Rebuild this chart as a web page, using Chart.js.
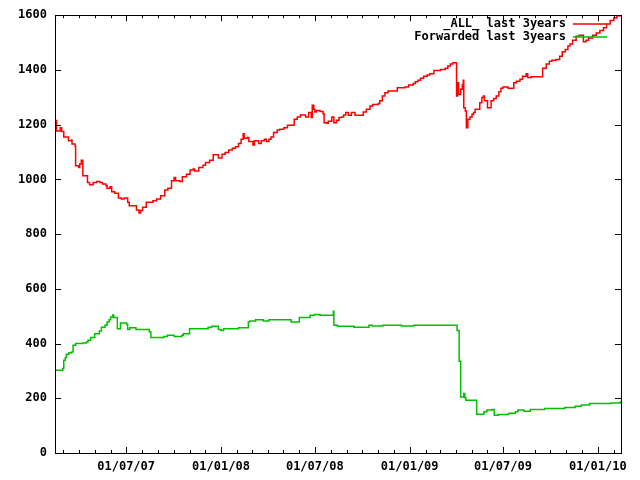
<!DOCTYPE html>
<html>
<head>
<meta charset="utf-8">
<script src="https://cdn.jsdelivr.net/npm/chart.js@4.4.1/dist/chart.umd.min.js"></script>
<style>
  body { margin: 0; background: #fff; }
  canvas { display: block; }
</style>
</head>
<body>
<canvas id="chart" width="640" height="480"></canvas>
<script>
// x range of the plot (last 3 years)
const rangeStart = '2007-02-13';
const rangeEnd = '2010-02-15';

const allDates = [
  '2007-02-13','2007-02-16','2007-02-23','2007-02-26','2007-03-02','2007-03-11','2007-03-17','2007-03-18',
  '2007-03-24','2007-03-25','2007-03-31','2007-04-02','2007-04-05','2007-04-08','2007-04-17','2007-04-21',
  '2007-04-28','2007-05-05','2007-05-11','2007-05-16','2007-05-23','2007-05-25','2007-05-31','2007-06-03',
  '2007-06-09','2007-06-16','2007-06-22','2007-06-27','2007-07-04','2007-07-07','2007-07-21','2007-07-26',
  '2007-07-29','2007-08-02','2007-08-09','2007-08-22','2007-08-29','2007-09-06','2007-09-14','2007-09-20',
  '2007-09-27','2007-10-02','2007-10-05','2007-10-13','2007-10-18','2007-10-26','2007-11-02','2007-11-08',
  '2007-11-11','2007-11-19','2007-11-27','2007-12-02','2007-12-10','2007-12-17','2007-12-27','2008-01-03',
  '2008-01-09','2008-01-16','2008-01-23','2008-01-29','2008-02-04','2008-02-09','2008-02-13','2008-02-15',
  '2008-02-21','2008-02-24','2008-03-03','2008-03-06','2008-03-14','2008-03-19','2008-03-25','2008-03-29',
  '2008-04-03','2008-04-07','2008-04-12','2008-04-19','2008-04-24','2008-05-02','2008-05-09','2008-05-22',
  '2008-05-28','2008-06-03','2008-06-13','2008-06-19','2008-06-24','2008-06-26','2008-06-29','2008-07-01',
  '2008-07-04','2008-07-11','2008-07-17','2008-07-19','2008-07-24','2008-07-27','2008-08-03','2008-08-07',
  '2008-08-12','2008-08-17','2008-08-22','2008-08-26','2008-08-30','2008-09-04','2008-09-10','2008-09-17',
  '2008-10-03','2008-10-09','2008-10-16','2008-10-21','2008-11-01','2008-11-04','2008-11-09','2008-11-14',
  '2008-11-20','2008-12-08','2008-12-23','2008-12-30','2009-01-08','2009-01-12','2009-01-17','2009-01-22',
  '2009-01-28','2009-02-04','2009-02-09','2009-02-17','2009-03-02','2009-03-11','2009-03-16','2009-03-21',
  '2009-03-26','2009-04-02','2009-04-04','2009-04-06','2009-04-10','2009-04-13','2009-04-15','2009-04-16',
  '2009-04-19','2009-04-21','2009-04-24','2009-04-28','2009-05-02','2009-05-05','2009-05-08','2009-05-17',
  '2009-05-21','2009-05-24','2009-05-26','2009-06-01','2009-06-08','2009-06-13','2009-06-18','2009-06-23',
  '2009-06-27','2009-07-01','2009-07-11','2009-07-22','2009-07-27','2009-08-03','2009-08-08','2009-08-15',
  '2009-08-18','2009-08-25','2009-09-16','2009-09-23','2009-09-29','2009-10-04','2009-10-12','2009-10-19',
  '2009-10-24','2009-10-30','2009-11-04','2009-11-08','2009-11-13','2009-11-20','2009-11-26','2009-12-04',
  '2009-12-09','2009-12-14','2009-12-22','2009-12-29','2010-01-05','2010-01-12','2010-01-18','2010-01-25',
  '2010-02-01','2010-02-07','2010-02-14'
];
const allValues = [
  1215,1177,1189,1175,1155,1141,1144,1129,
  1122,1050,1043,1056,1070,1013,989,980,
  989,992,989,983,977,968,973,955,
  949,932,928,932,916,904,888,877,
  886,898,916,922,928,940,961,968,
  995,1007,995,992,1010,1019,1034,1038,
  1031,1043,1052,1062,1070,1090,1078,1092,
  1098,1107,1114,1119,1131,1147,1167,1150,
  1153,1138,1126,1141,1131,1141,1147,1138,
  1147,1155,1171,1180,1183,1189,1198,1220,
  1228,1235,1228,1244,1226,1271,1256,1246,
  1252,1248,1240,1207,1205,1212,1228,1207,
  1216,1226,1228,1235,1244,1234,1244,1234,
  1246,1256,1268,1274,1277,1287,1305,1317,
  1323,1335,1338,1345,1350,1357,1362,1370,
  1377,1381,1386,1398,1402,1406,1414,1422,
  1426,1305,1353,1310,1329,1345,1362,1262,
  1250,1189,1220,1228,1238,1244,1256,1280,
  1299,1305,1287,1262,1287,1296,1305,1320,
  1333,1338,1333,1353,1359,1366,1377,1386,
  1372,1375,1406,1422,1432,1435,1438,1450,
  1466,1475,1487,1495,1508,1523,1527,1503,
  1508,1517,1527,1535,1544,1554,1568,1581,
  1590,1598,1600
];

const fwdDates = [
  '2007-02-13','2007-02-28','2007-03-02','2007-03-05','2007-03-07','2007-03-12','2007-03-17','2007-03-20',
  '2007-03-25','2007-04-08','2007-04-15','2007-04-18','2007-04-23','2007-05-01','2007-05-10','2007-05-14',
  '2007-05-21','2007-05-25','2007-05-29','2007-06-01','2007-06-05','2007-06-07','2007-06-14','2007-06-20',
  '2007-07-02','2007-07-04','2007-07-08','2007-07-20','2007-08-15','2007-08-18','2007-09-12','2007-09-19',
  '2007-10-02','2007-10-17','2007-10-20','2007-11-01','2007-12-07','2007-12-14','2007-12-27','2008-01-01',
  '2008-01-06','2008-02-04','2008-02-23','2008-02-26','2008-03-08','2008-03-23','2008-04-03','2008-05-16',
  '2008-06-01','2008-06-22','2008-06-30','2008-07-11','2008-08-06','2008-08-07','2008-08-14','2008-09-15',
  '2008-10-14','2008-10-21','2008-11-10','2008-12-16','2009-01-09','2009-04-03','2009-04-07','2009-04-10',
  '2009-04-16','2009-04-18','2009-04-20','2009-05-11','2009-05-25','2009-05-31','2009-06-10','2009-06-14',
  '2009-06-22','2009-07-12','2009-07-25','2009-07-30','2009-08-11','2009-08-23','2009-09-20','2009-10-29',
  '2009-11-18','2009-11-30','2009-12-16','2010-01-27','2010-02-14'
];
const fwdValues = [
  302,309,339,349,361,366,369,394,
  400,402,406,412,422,436,446,460,
  467,479,487,497,504,495,454,475,
  470,451,458,451,442,422,426,430,
  426,430,436,454,460,463,451,448,
  454,458,479,482,487,482,487,479,
  495,503,506,503,518,467,463,460,
  467,464,467,464,467,448,335,205,
  217,203,193,142,151,157,159,138,
  141,145,151,157,153,159,163,166,
  171,175,181,183,190
];

const yTicks = [0, 200, 400, 600, 800, 1000, 1200, 1400, 1600];
const seriesNames = ['_ALL_ last 3years', 'Forwarded last 3years'];
const seriesColors = ['#ff0000', '#00c000'];

const DAY = 86400000;
const toDay = s => Date.parse(s) / DAY;
const pad2 = n => String(n).padStart(2, '0');

function points(dates, values) {
  return dates.map((d, i) => ({ x: toDay(d), y: values[i] }));
}

// month starts for x ticks
const monthTicks = [];
for (let y = 2007, m = 2; y < 2011; m++) {
  if (m > 11) { m = 0; y++; }
  const v = Date.UTC(y, m, 1) / DAY;
  if (v > toDay(rangeEnd)) break;
  monthTicks.push(v);
}
function isMajor(v) {
  const d = new Date(v * DAY);
  return d.getUTCMonth() === 0 || d.getUTCMonth() === 6;
}

const FONT = 'bold 12px "DejaVu Sans Mono", monospace';

const gnuFrame = {
  id: 'gnuFrame',
  afterDatasetsDraw(chart) {
    const { ctx, chartArea: a, scales } = chart;
    ctx.save();
    ctx.strokeStyle = '#000';
    ctx.lineWidth = 1;
    ctx.beginPath();
    yTicks.forEach(t => {
      const y = Math.round(scales.y.getPixelForValue(t)) + 0.5;
      ctx.moveTo(a.left, y); ctx.lineTo(a.left + 6, y);
      ctx.moveTo(a.right, y); ctx.lineTo(a.right - 6, y);
    });
    monthTicks.forEach(t => {
      const x = Math.round(scales.x.getPixelForValue(t)) + 0.5;
      const len = isMajor(t) ? 6 : 3;
      ctx.moveTo(x, a.bottom); ctx.lineTo(x, a.bottom - len);
      ctx.moveTo(x, a.top); ctx.lineTo(x, a.top + len);
    });
    ctx.stroke();
    ctx.strokeRect(Math.round(a.left) + 0.5, Math.round(a.top) + 0.5,
      Math.round(a.right - a.left), Math.round(a.bottom - a.top));

    // key, top right inside the plot
    ctx.font = FONT;
    ctx.textAlign = 'right';
    ctx.textBaseline = 'middle';
    seriesNames.forEach((name, i) => {
      const y = 24 + i * 13;
      ctx.fillStyle = '#000';
      ctx.fillText(name, 566, y);
      ctx.strokeStyle = seriesColors[i];
      ctx.lineWidth = 1.5;
      ctx.beginPath();
      ctx.moveTo(573, y); ctx.lineTo(607, y);
      ctx.stroke();
    });
    ctx.restore();
  }
};

new Chart(document.getElementById('chart'), {
  type: 'line',
  data: {
    datasets: [{
      label: seriesNames[0],
      data: points(allDates, allValues),
      borderColor: seriesColors[0],
      borderWidth: 1.5,
      pointRadius: 0,
      stepped: true
    }, {
      label: seriesNames[1],
      data: points(fwdDates, fwdValues),
      borderColor: seriesColors[1],
      borderWidth: 1.5,
      pointRadius: 0,
      stepped: true
    }]
  },
  options: {
    responsive: false,
    animation: false,
    devicePixelRatio: 1,
    layout: { padding: { top: 14, right: 19, left: 0, bottom: 0 } },
    plugins: { legend: { display: false }, tooltip: { enabled: false } },
    scales: {
      x: {
        type: 'linear',
        min: toDay(rangeStart),
        max: toDay(rangeEnd),
        grid: { display: false, drawTicks: false },
        border: { display: false },
        afterBuildTicks: s => { s.ticks = monthTicks.map(v => ({ value: v })); },
        afterFit: s => { s.height = 27; },
        ticks: {
          autoSkip: false,
          maxRotation: 0,
          padding: 7,
          color: '#000',
          font: { family: '"DejaVu Sans Mono", monospace', size: 12, weight: 'bold' },
          callback: v => {
            if (!isMajor(v)) return '';
            const d = new Date(v * DAY);
            return pad2(d.getUTCDate()) + '/' + pad2(d.getUTCMonth() + 1) + '/' + pad2(d.getUTCFullYear() % 100);
          }
        }
      },
      y: {
        min: 0,
        max: 1600,
        grid: { display: false, drawTicks: false },
        border: { display: false },
        afterBuildTicks: s => { s.ticks = yTicks.map(v => ({ value: v })); },
        afterFit: s => { s.width = 55; },
        ticks: {
          padding: 8,
          color: '#000',
          font: { family: '"DejaVu Sans Mono", monospace', size: 12, weight: 'bold' },
          callback: v => String(v)
        }
      }
    }
  },
  plugins: [gnuFrame]
});
</script>
</body>
</html>
